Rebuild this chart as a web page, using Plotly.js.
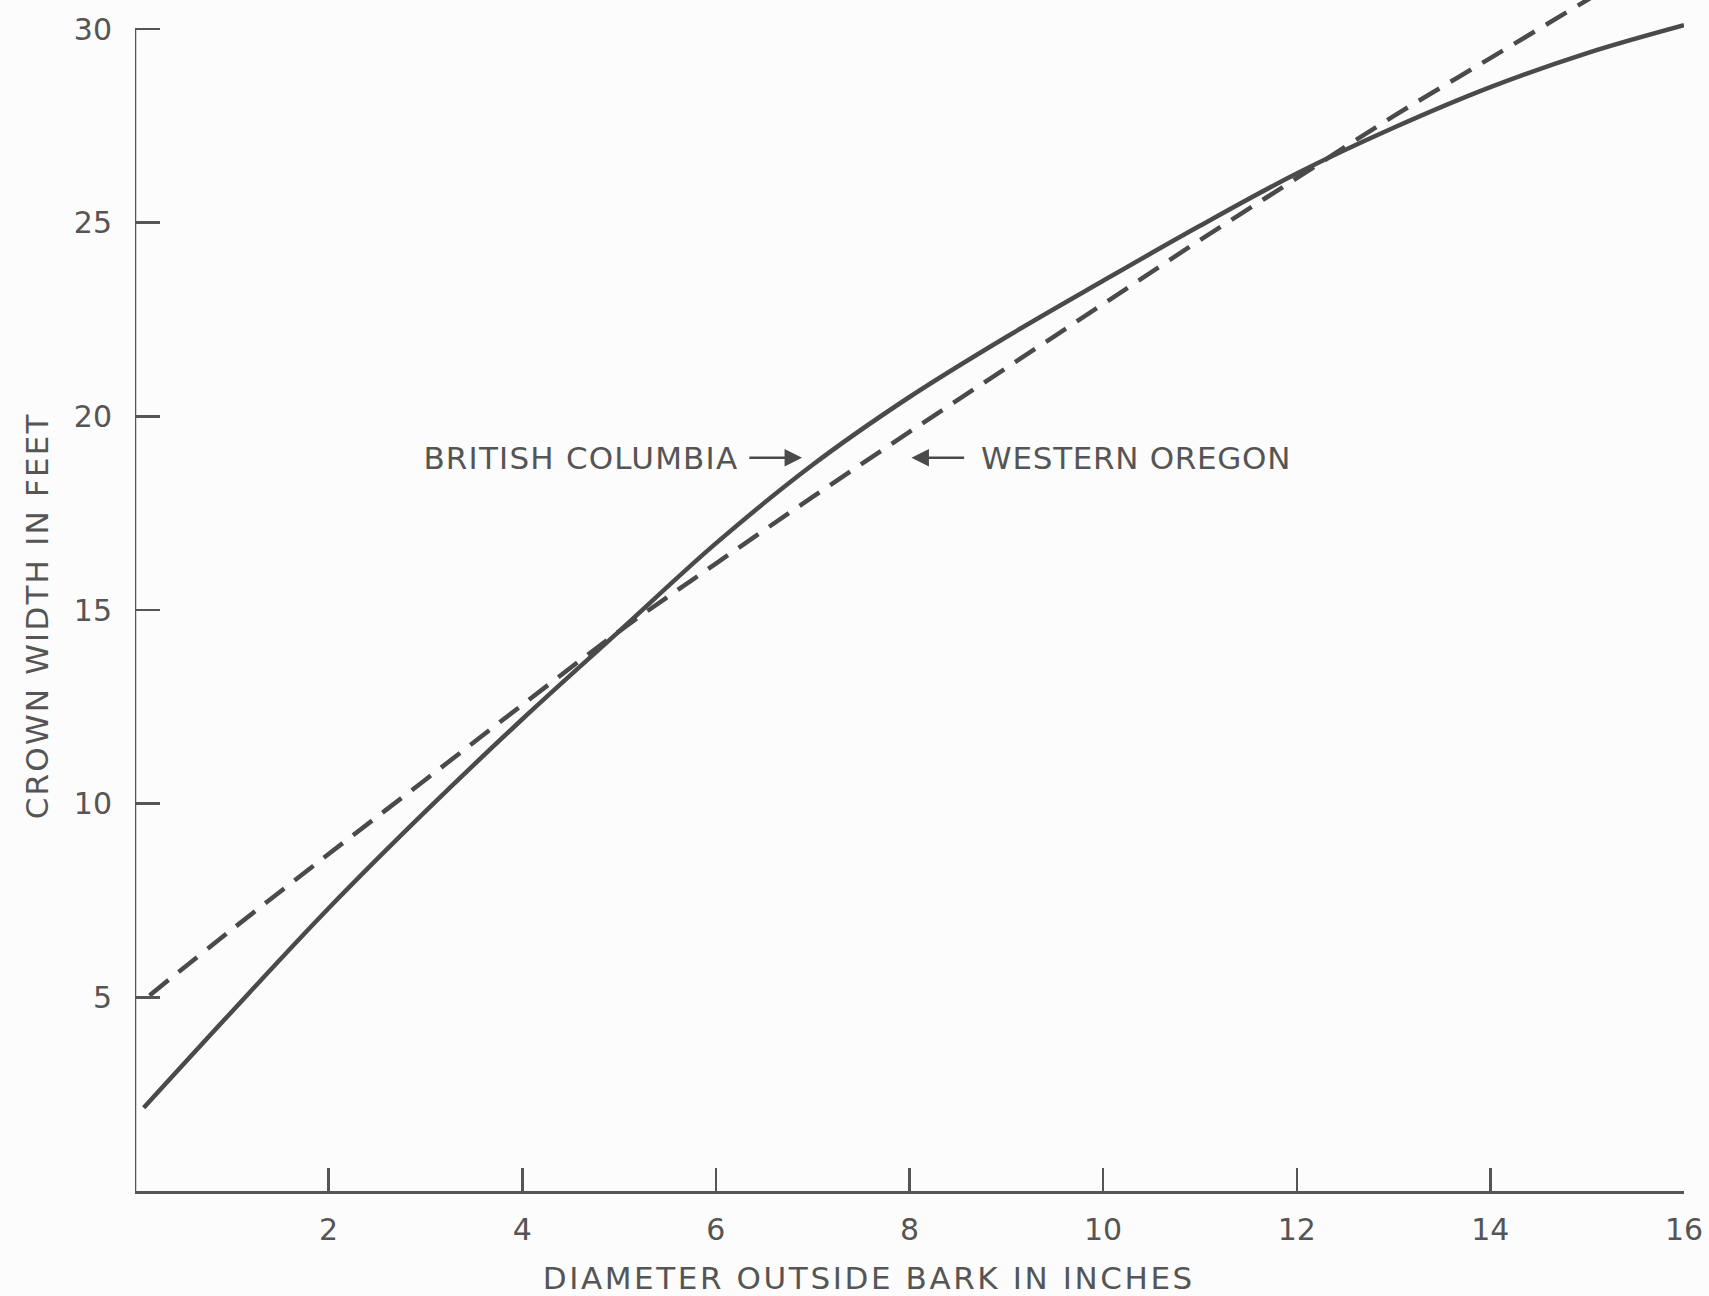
<!DOCTYPE html>
<html>
<head>
<meta charset="utf-8">
<script src="https://cdn.plot.ly/plotly-3.0.1.min.js"></script>
<style>
  html, body { margin: 0; padding: 0; background: #fcfcfc; }
  #chart { width: 1709px; height: 1296px; }
</style>
</head>
<body>
<div id="chart"></div>
<script>
// Diameter outside bark (inches) and crown width (feet), British Columbia
const bcDiameter = [0.09, 1, 2, 3, 4, 5, 6, 7, 8, 9, 10, 11, 12, 13, 14, 15, 16];
const bcCrownWidth = [2.15, 4.63, 7.3, 9.8, 12.18, 14.45, 16.72, 18.75, 20.5, 22.05, 23.5, 24.92, 26.27, 27.45, 28.5, 29.38, 30.1];

// Western Oregon
const orDiameter = [0.15, 1, 2, 3, 4, 5, 6, 7, 8, 9, 10, 11, 12, 13, 14, 15, 15.6];
const orCrownWidth = [5.05, 6.75, 8.7, 10.62, 12.55, 14.45, 16.2, 17.92, 19.6, 21.25, 22.9, 24.55, 26.15, 27.75, 29.25, 30.75, 31.65];

const xTicks = [2, 4, 6, 8, 10, 12, 14, 16];
const xTickText = ['2', '4', '6', '8', '10', '12', '14', '16'];
const yTicks = [5, 10, 15, 20, 25, 30];
const yTickText = ['5', '10', '15', '20', '25', '30'];

const labelBC = 'BRITISH COLUMBIA';
const labelOR = 'WESTERN OREGON';
const xTitle = 'DIAMETER OUTSIDE BARK IN INCHES';
const yTitle = 'CROWN WIDTH IN FEET';

const ink = '#4a4a4a';
const tickFont = { family: 'DejaVu Sans, sans-serif', size: 30, color: '#555555' };
const textFont = { family: 'DejaVu Sans, sans-serif', size: 31, color: '#555555' };

const traces = [
  {
    x: bcDiameter, y: bcCrownWidth, type: 'scatter', mode: 'lines', name: labelBC,
    line: { color: ink, width: 4.5, shape: 'spline', smoothing: 1 },
    hoverinfo: 'x+y'
  },
  {
    x: orDiameter, y: orCrownWidth, type: 'scatter', mode: 'lines', name: labelOR,
    line: { color: ink, width: 4.5, dash: '24px,13px', shape: 'spline', smoothing: 1 },
    hoverinfo: 'x+y'
  }
];

const layout = {
  width: 1709, height: 1296,
  margin: { l: 135, r: 25, t: 0, b: 105 },
  paper_bgcolor: '#fcfcfc', plot_bgcolor: '#fcfcfc',
  showlegend: false,
  font: tickFont,
  xaxis: {
    range: [0, 16],
    tickvals: xTicks, ticktext: xTickText,
    ticks: 'inside', ticklen: 23, tickwidth: 2.5, tickcolor: '#555555',
    showline: true, linecolor: '#555555', linewidth: 2.5,
    showgrid: false, zeroline: false,
    tickfont: tickFont, ticklabelstandoff: 10
  },
  yaxis: {
    range: [0, 30.75],
    tickvals: yTicks, ticktext: yTickText,
    ticks: 'inside', ticklen: 25, tickwidth: 2.5, tickcolor: '#555555',
    showline: false,
    showgrid: false, zeroline: false,
    tickfont: tickFont, ticklabelstandoff: 22
  },
  shapes: [
    { type: 'line', xref: 'x', yref: 'y', x0: 0, x1: 0, y0: 0, y1: 30,
      line: { color: '#555555', width: 2.5 } }
  ],
  annotations: [
    { xref: 'paper', yref: 'paper', x: 0.474, y: -0.073, xanchor: 'center', yanchor: 'middle',
      text: xTitle, showarrow: false, font: textFont },
    { xref: 'paper', yref: 'paper', x: -0.0635, y: 0.483, xanchor: 'center', yanchor: 'middle',
      textangle: -90, text: yTitle, showarrow: false, font: textFont },
    { xref: 'x', yref: 'y', x: 6.156, y: 18.93, xanchor: 'right', yanchor: 'middle',
      text: labelBC, showarrow: false, font: textFont },
    { xref: 'x', yref: 'y', x: 6.89, y: 18.93, axref: 'x', ayref: 'y', ax: 6.33, ay: 18.93,
      text: '', showarrow: true, arrowhead: 2, arrowsize: 1.4, arrowwidth: 2.5, arrowcolor: ink },
    { xref: 'x', yref: 'y', x: 8.765, y: 18.93, xanchor: 'left', yanchor: 'middle',
      text: labelOR, showarrow: false, font: textFont },
    { xref: 'x', yref: 'y', x: 8.02, y: 18.93, axref: 'x', ayref: 'y', ax: 8.58, ay: 18.93,
      text: '', showarrow: true, arrowhead: 2, arrowsize: 1.4, arrowwidth: 2.5, arrowcolor: ink }
  ]
};

const spacing = {};
spacing[xTitle] = '2.6px';
spacing[yTitle] = '2.2px';
spacing[labelBC] = '1.2px';
spacing[labelOR] = '0.7px';

Plotly.newPlot('chart', traces, layout, { displayModeBar: false, staticPlot: true }).then(function (gd) {
  gd.querySelectorAll('text').forEach(function (t) {
    const s = spacing[t.textContent];
    if (s) t.style.letterSpacing = s;
  });
});
</script>
</body>
</html>
